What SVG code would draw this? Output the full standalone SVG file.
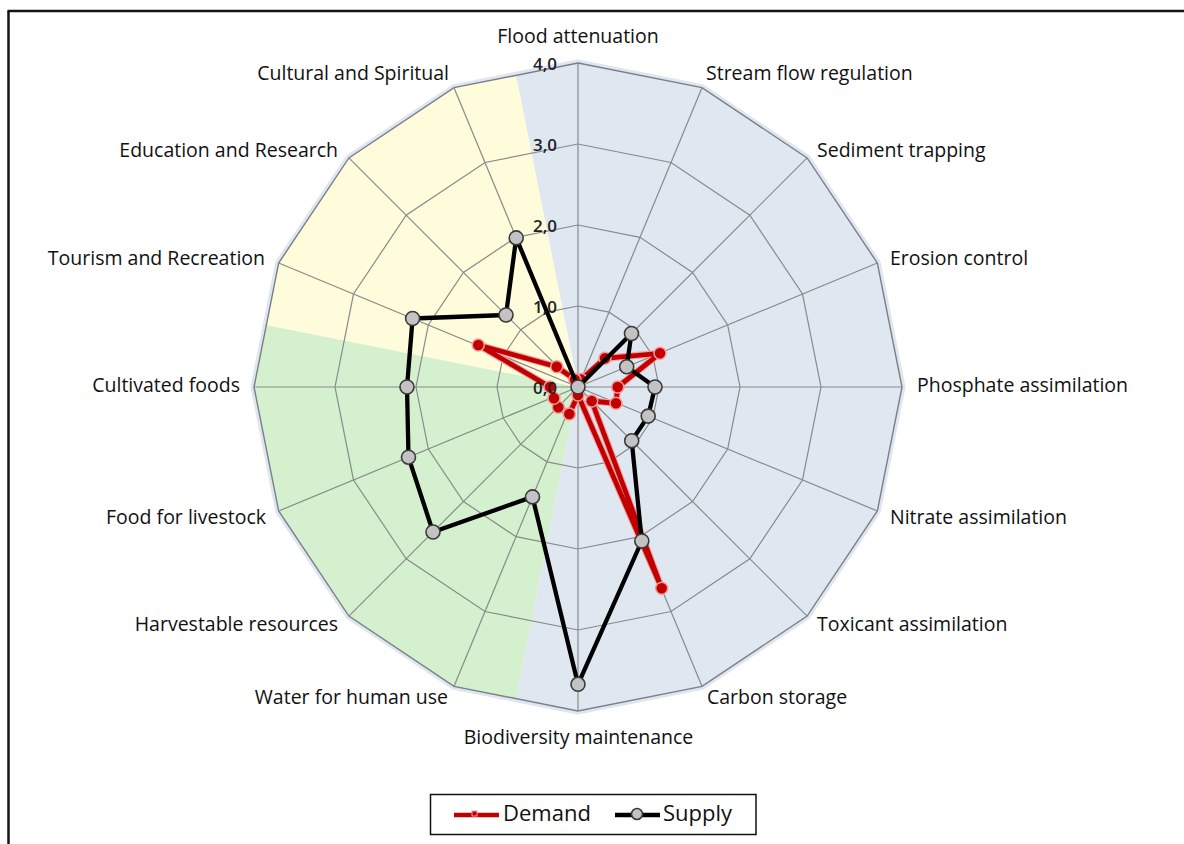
<svg xmlns="http://www.w3.org/2000/svg" width="1184" height="844" viewBox="0 0 1184 844">
<style>
.lbl{font-family:"Open Sans","Liberation Sans",sans-serif;font-size:19.5px;fill:#111}
.num{font-family:"Open Sans","Liberation Sans",sans-serif;font-size:17px;font-weight:600;fill:#1e1e1e;text-anchor:end}
.leg{font-family:"Open Sans","Liberation Sans",sans-serif;font-size:22px;fill:#111}
.ring{fill:none;stroke:#8a8a8a;stroke-width:1.2}
.spoke{stroke:#8a8a8a;stroke-width:1.2}
.dm{fill:#c00000;stroke:#f59a9a;stroke-width:1.5}
.sp{fill:#c3c3c3;stroke:#3a3a3a;stroke-width:1.6}
</style>
<defs>
<clipPath id="clipOuter"><polygon points="578,63 701.99,87.66 807.1,157.9 877.34,263.01 902,387 877.34,510.99 807.1,616.1 701.99,686.34 578,711 454.01,686.34 348.9,616.1 278.66,510.99 254,387 278.66,263.01 348.9,157.9 454.01,87.66"/></clipPath>
</defs>
<rect x="0" y="0" width="1184" height="844" fill="#ffffff"/>
<g id="frame" stroke="#151515" stroke-width="2.5" fill="none">
<line x1="8.5" y1="11" x2="8.5" y2="844"/>
<line x1="7.5" y1="11" x2="1184" y2="11"/>
</g>
<g id="background">
<polygon points="578,63 701.99,87.66 807.1,157.9 877.34,263.01 902,387 877.34,510.99 807.1,616.1 701.99,686.34 578,711 454.01,686.34 348.9,616.1 278.66,510.99 254,387 278.66,263.01 348.9,157.9 454.01,87.66" fill="none" stroke="#dfe6ef" stroke-width="7" stroke-linejoin="round"/>
<g clip-path="url(#clipOuter)">
<polygon points="578,387 460.95,-201.47 1200,-201 1200,975 460.95,975.47" fill="#dfe7f1"/>
<polygon points="578,387 460.95,975.47 -10.47,975.47 -10.47,269.95" fill="#d4f0cf"/>
<polygon points="578,387 -10.47,269.95 -10.47,-201.47 460.95,-201.47" fill="#fefcda"/>
</g>
</g>
<g id="grid">
<polygon class="ring" points="578,306 609,312.17 635.28,329.72 652.83,356 659,387 652.83,418 635.28,444.28 609,461.83 578,468 547,461.83 520.72,444.28 503.17,418 497,387 503.17,356 520.72,329.72 547,312.17"/>
<polygon class="ring" points="578,225 640,237.33 692.55,272.45 727.67,325 740,387 727.67,449 692.55,501.55 640,536.67 578,549 516,536.67 463.45,501.55 428.33,449 416,387 428.33,325 463.45,272.45 516,237.33"/>
<polygon class="ring" points="578,144 670.99,162.5 749.83,215.17 802.5,294.01 821,387 802.5,479.99 749.83,558.83 670.99,611.5 578,630 485.01,611.5 406.17,558.83 353.5,479.99 335,387 353.5,294.01 406.17,215.17 485.01,162.5"/>
<polygon class="ring" style="stroke:#7a7f88;stroke-width:1.4" points="578,63 701.99,87.66 807.1,157.9 877.34,263.01 902,387 877.34,510.99 807.1,616.1 701.99,686.34 578,711 454.01,686.34 348.9,616.1 278.66,510.99 254,387 278.66,263.01 348.9,157.9 454.01,87.66"/>
<line class="spoke" x1="578" y1="387" x2="578" y2="63"/>
<line class="spoke" x1="578" y1="387" x2="701.99" y2="87.66"/>
<line class="spoke" x1="578" y1="387" x2="807.1" y2="157.9"/>
<line class="spoke" x1="578" y1="387" x2="877.34" y2="263.01"/>
<line class="spoke" x1="578" y1="387" x2="902" y2="387"/>
<line class="spoke" x1="578" y1="387" x2="877.34" y2="510.99"/>
<line class="spoke" x1="578" y1="387" x2="807.1" y2="616.1"/>
<line class="spoke" x1="578" y1="387" x2="701.99" y2="686.34"/>
<line class="spoke" x1="578" y1="387" x2="578" y2="711"/>
<line class="spoke" x1="578" y1="387" x2="454.01" y2="686.34"/>
<line class="spoke" x1="578" y1="387" x2="348.9" y2="616.1"/>
<line class="spoke" x1="578" y1="387" x2="278.66" y2="510.99"/>
<line class="spoke" x1="578" y1="387" x2="254" y2="387"/>
<line class="spoke" x1="578" y1="387" x2="278.66" y2="263.01"/>
<line class="spoke" x1="578" y1="387" x2="348.9" y2="157.9"/>
<line class="spoke" x1="578" y1="387" x2="454.01" y2="87.66"/>
</g>
<g id="axis-labels" class="lbl">
<text x="578" y="43" text-anchor="middle">Flood attenuation</text>
<text x="706" y="80">Stream flow regulation</text>
<text x="817" y="157">Sediment trapping</text>
<text x="890" y="265">Erosion control</text>
<text x="917" y="392">Phosphate assimilation</text>
<text x="890" y="524">Nitrate assimilation</text>
<text x="817" y="631">Toxicant assimilation</text>
<text x="707" y="704">Carbon storage</text>
<text x="578.5" y="744" text-anchor="middle">Biodiversity maintenance</text>
<text x="448" y="704" text-anchor="end">Water for human use</text>
<text x="338" y="631" text-anchor="end">Harvestable resources</text>
<text x="266" y="524" text-anchor="end">Food for livestock</text>
<text x="240" y="392" text-anchor="end">Cultivated foods</text>
<text x="265" y="265" text-anchor="end">Tourism and Recreation</text>
<text x="338" y="157" text-anchor="end">Education and Research</text>
<text x="449" y="80" text-anchor="end">Cultural and Spiritual</text>
</g>
<g id="series-demand">
<polygon points="578,383 581.1,379.6 605,358.3 660,353.3 617.7,387 616,403.3 591.7,401 661.7,588.3 578,395 569.3,414 558.3,407.3 554,398.3 550,387 478.3,345 556.7,366.7 574.9,379.6" fill="none" stroke="#f2a3a3" stroke-width="7" stroke-linejoin="round"/>
<polygon points="578,383 581.1,379.6 605,358.3 660,353.3 617.7,387 616,403.3 591.7,401 661.7,588.3 578,395 569.3,414 558.3,407.3 554,398.3 550,387 478.3,345 556.7,366.7 574.9,379.6" fill="none" stroke="#c00000" stroke-width="4.8" stroke-linejoin="round"/>
<circle class="dm" cx="578" cy="383" r="6"/>
<circle class="dm" cx="581.1" cy="379.6" r="6"/>
<circle class="dm" cx="605" cy="358.3" r="6"/>
<circle class="dm" cx="660" cy="353.3" r="6"/>
<circle class="dm" cx="617.7" cy="387" r="6"/>
<circle class="dm" cx="616" cy="403.3" r="6"/>
<circle class="dm" cx="591.7" cy="401" r="6"/>
<circle class="dm" cx="661.7" cy="588.3" r="6"/>
<circle class="dm" cx="578" cy="395" r="6"/>
<circle class="dm" cx="569.3" cy="414" r="6"/>
<circle class="dm" cx="558.3" cy="407.3" r="6"/>
<circle class="dm" cx="554" cy="398.3" r="6"/>
<circle class="dm" cx="550" cy="387" r="6"/>
<circle class="dm" cx="478.3" cy="345" r="6"/>
<circle class="dm" cx="556.7" cy="366.7" r="6"/>
<circle class="dm" cx="574.9" cy="379.6" r="6"/>
</g>
<g id="series-supply">
<polygon points="578,387 578,387 631.5,333.5 626.7,366.8 655,387 648.2,416.1 631.7,440.7 641.8,541 578,684.3 532.5,496.9 433,532 408.5,457.2 407,387 412.6,318.5 506,315 516.2,237.9" fill="none" stroke="#000000" stroke-width="4.3" stroke-linejoin="round"/>
<circle class="sp" cx="578" cy="387" r="7"/>
<circle class="sp" cx="631.5" cy="333.5" r="7"/>
<circle class="sp" cx="626.7" cy="366.8" r="7"/>
<circle class="sp" cx="655" cy="387" r="7"/>
<circle class="sp" cx="648.2" cy="416.1" r="7"/>
<circle class="sp" cx="631.7" cy="440.7" r="7"/>
<circle class="sp" cx="641.8" cy="541" r="7"/>
<circle class="sp" cx="578" cy="684.3" r="7"/>
<circle class="sp" cx="532.5" cy="496.9" r="7"/>
<circle class="sp" cx="433" cy="532" r="7"/>
<circle class="sp" cx="408.5" cy="457.2" r="7"/>
<circle class="sp" cx="407" cy="387" r="7"/>
<circle class="sp" cx="412.6" cy="318.5" r="7"/>
<circle class="sp" cx="506" cy="315" r="7"/>
<circle class="sp" cx="516.2" cy="237.9" r="7"/>
</g>
<g id="scale-labels">
<text class="num" x="557" y="69.5">4,0</text>
<text class="num" x="557" y="150.5">3,0</text>
<text class="num" x="557" y="231.5">2,0</text>
<text class="num" x="557" y="312.5">1,0</text>
<text class="num" x="557" y="393.5">0,0</text>
</g>
<g id="legend">
<rect x="430.5" y="794.5" width="325.5" height="40" fill="#ffffff" stroke="#111" stroke-width="1.5"/>
<line x1="454" y1="815" x2="499" y2="815" stroke="#c00000" stroke-width="4.5"/>
<rect x="472" y="811" width="5" height="5" fill="#c00000" stroke="#f59a9a" stroke-width="1"/>
<text class="leg" x="503" y="821">Demand</text>
<line x1="615" y1="815" x2="660" y2="815" stroke="#000" stroke-width="4.3"/>
<circle class="sp" cx="637" cy="814" r="5.5"/>
<text class="leg" x="663" y="821">Supply</text>
</g>
</svg>
